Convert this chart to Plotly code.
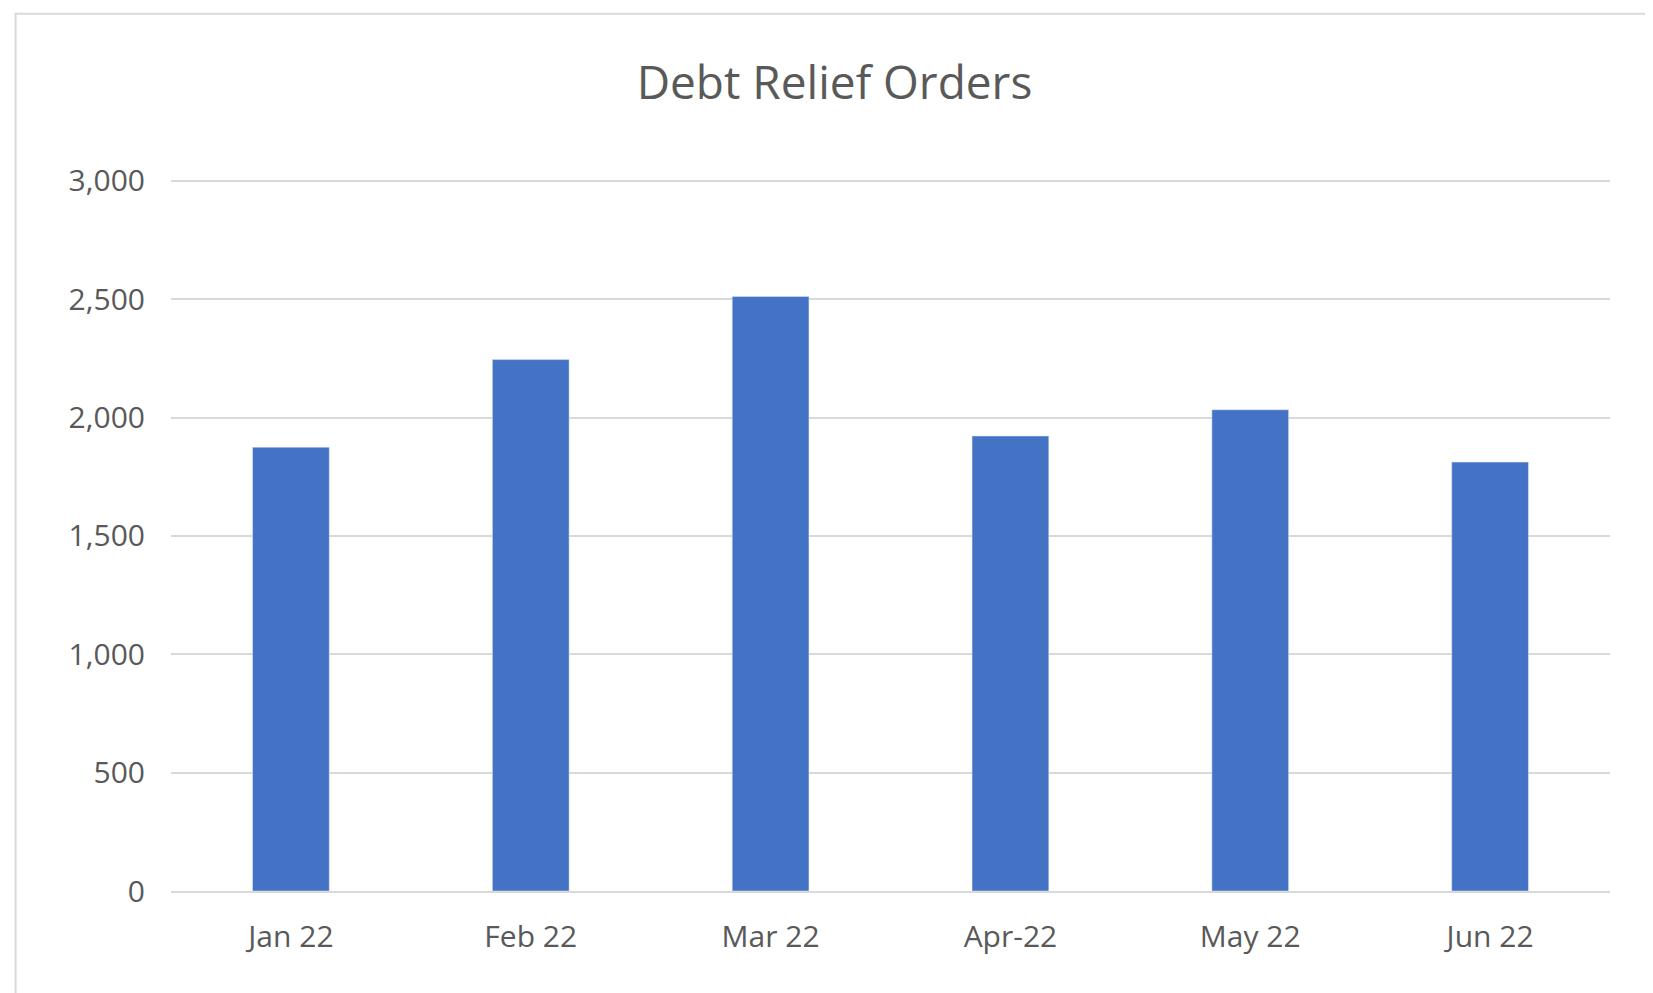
import plotly.graph_objects as go

months = ["Jan 22", "Feb 22", "Mar 22", "Apr-22", "May 22", "Jun 22"]
orders = [1875, 2245, 2512, 1922, 2033, 1812]

fig = go.Figure(go.Bar(x=months, y=orders, marker_color="#4472C4"))

fig.update_layout(
    title=dict(text="Debt Relief Orders", x=0.5, xanchor="center", y=0.925, yanchor="middle",
               font=dict(size=46, color="#595959")),
    font=dict(family="Open Sans", size=30, color="#595959"),
    width=1653, height=993,
    margin=dict(l=163, r=51, t=171, b=110),
    bargap=0.68,
    plot_bgcolor="white", paper_bgcolor="white",
    showlegend=False,
)
fig.update_yaxes(range=[0, 3008], tickvals=[0, 500, 1000, 1500, 2000, 2500, 3000], tickformat=",",
                 gridcolor="#D9D9D9", gridwidth=2, zeroline=False, ticks="", ticklabelstandoff=25)
fig.update_xaxes(showline=True, linecolor="#D9D9D9", linewidth=2, ticks="", ticklabelstandoff=18)
fig.add_shape(type="rect", xref="paper", yref="paper", x0=-0.108, x1=1.031, y0=-0.148, y1=1.232,
              line=dict(color="#D9D9D9", width=2))

fig.write_html("out.html")
